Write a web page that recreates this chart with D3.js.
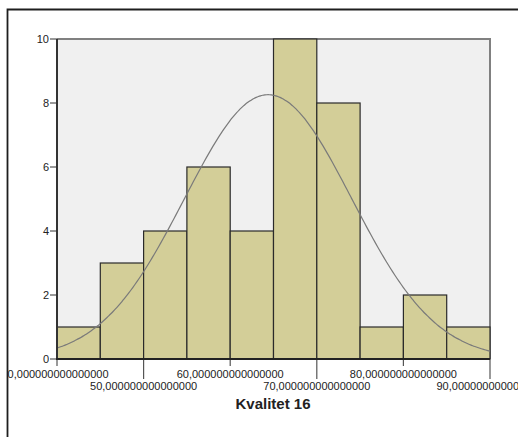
<!DOCTYPE html>
<html>
<head>
<meta charset="utf-8">
<script src="https://cdn.jsdelivr.net/npm/d3@7"></script>
<style>
  html, body { margin: 0; padding: 0; background: #fff; }
  svg { display: block; font-family: Arial, "Liberation Sans", sans-serif; }
</style>
</head>
<body>
<svg id="chart" width="518" height="437"></svg>
<script>
// Histogram bins (lower edges, width 5) and their frequencies
const binStarts = [40, 45, 50, 55, 60, 65, 70, 75, 80, 85];
const binWidth = 5;
const counts = [1, 3, 4, 6, 4, 10, 8, 1, 2, 1];
const xTicks = [40, 50, 60, 70, 80, 90];
const yTicks = [0, 2, 4, 6, 8, 10];
const variableName = "Kvalitet 16";
// Fitted normal distribution parameters
const fitMean = 64.375;
const fitSd = 9.66;

const svg = d3.select("#chart");
const plot = { left: 57, right: 490, top: 39, bottom: 359 };

const x = d3.scaleLinear().domain([40, 90]).range([plot.left, plot.right]);
const y = d3.scaleLinear().domain([0, 10]).range([plot.bottom, plot.top]);

// Everything inside the outer frame is clipped to it
svg.append("defs").append("clipPath").attr("id", "frameClip")
  .append("rect").attr("x", 8).attr("y", 10).attr("width", 600).attr("height", 600);

// Outer frame
svg.append("path")
  .attr("d", "M7.5,520 V9.5 H530")
  .attr("fill", "none")
  .attr("stroke", "#1e1e1e")
  .attr("stroke-width", 1.8);

const g = svg.append("g").attr("clip-path", "url(#frameClip)");

// Plot background
g.append("rect")
  .attr("x", plot.left).attr("y", plot.top)
  .attr("width", plot.right - plot.left)
  .attr("height", plot.bottom - plot.top)
  .attr("fill", "#f0f0f0");

// Top and right border of the plot area
g.append("path")
  .attr("d", `M${plot.left},${plot.top} H${plot.right} V${plot.bottom}`)
  .attr("fill", "none")
  .attr("stroke", "#808080")
  .attr("stroke-width", 2);

// Bars
const total = d3.sum(counts);
g.append("g").selectAll("rect")
  .data(binStarts.map((s, i) => ({ s, c: counts[i] })))
  .join("rect")
  .attr("x", d => x(d.s))
  .attr("y", d => y(d.c))
  .attr("width", d => x(d.s + binWidth) - x(d.s))
  .attr("height", d => y(0) - y(d.c))
  .attr("fill", "#d3ce98")
  .attr("stroke", "#2a2a2a")
  .attr("stroke-width", 1.2);

// Normal curve scaled to frequency
const curveXs = d3.range(40, 90.001, 0.25);
const scaleFactor = total * binWidth / (fitSd * Math.sqrt(2 * Math.PI));
const curve = d3.line()
  .x(v => x(v))
  .y(v => y(scaleFactor * Math.exp(-0.5 * Math.pow((v - fitMean) / fitSd, 2))))
  .curve(d3.curveBasis);
g.append("path")
  .datum(curveXs)
  .attr("d", curve)
  .attr("fill", "none")
  .attr("stroke", "#7a7a7a")
  .attr("stroke-width", 1.2);

// Y axis
const yAxis = g.append("g");
yAxis.append("line")
  .attr("x1", plot.left).attr("x2", plot.left)
  .attr("y1", plot.top).attr("y2", plot.bottom)
  .attr("stroke", "#333").attr("stroke-width", 2);
const yt = yAxis.selectAll("g.tick").data(yTicks).join("g")
  .attr("transform", d => `translate(0,${y(d)})`);
yt.append("line")
  .attr("x1", 50).attr("x2", plot.left)
  .attr("stroke", "#333").attr("stroke-width", 1);
yt.append("text")
  .attr("x", 49).attr("dy", "0.36em")
  .attr("text-anchor", "end")
  .attr("font-size", 11)
  .attr("fill", "#222")
  .text(d => d);

// X axis
const xAxis = g.append("g");
const fmt = v => v + ",000000000000000";
const xt = xAxis.selectAll("g.tick").data(xTicks).join("g")
  .attr("transform", d => `translate(${x(d)},0)`);
xt.append("line")
  .attr("y1", plot.bottom)
  .attr("y2", (d, i) => i % 2 === 0 ? 366 : 379)
  .attr("stroke", "#555").attr("stroke-width", 1.2);
xt.append("text")
  .attr("x", (d, i) => i === 0 ? -2 : 0)
  .attr("y", (d, i) => i % 2 === 0 ? 378 : 389.5)
  .attr("text-anchor", "middle")
  .attr("font-size", 11)
  .attr("fill", "#222")
  .text(d => fmt(d));
xAxis.append("line")
  .attr("x1", plot.left - 1).attr("x2", plot.right)
  .attr("y1", plot.bottom).attr("y2", plot.bottom)
  .attr("stroke", "#222").attr("stroke-width", 2);

// Axis title
g.append("text")
  .attr("x", 273).attr("y", 408.5)
  .attr("text-anchor", "middle")
  .attr("font-size", 15)
  .attr("font-weight", "bold")
  .attr("fill", "#222")
  .text(variableName);
</script>
</body>
</html>
